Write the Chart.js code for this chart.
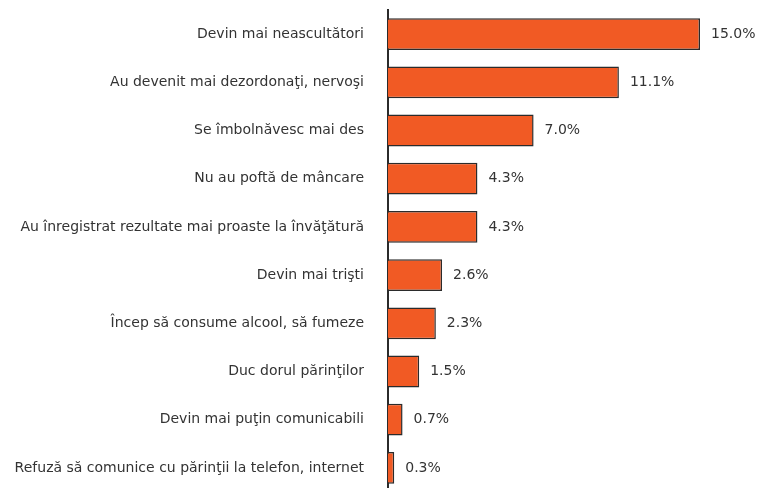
<!DOCTYPE html>
<html>
<head>
<meta charset="utf-8">
<script src="https://cdn.jsdelivr.net/npm/chart.js@4/dist/chart.umd.min.js"></script>
<style>
  html, body { margin: 0; padding: 0; background: #fff; overflow: hidden; }
</style>
</head>
<body>
<canvas id="myChart" width="760" height="492"></canvas>
<script>
const categories = [
    'Devin mai neascultători',
    'Au devenit mai dezordonaţi, nervoşi',
    'Se îmbolnăvesc mai des',
    'Nu au poftă de mâncare',
    'Au înregistrat rezultate mai proaste la învăţătură',
    'Devin mai trişti',
    'Încep să consume alcool, să fumeze',
    'Duc dorul părinţilor',
    'Devin mai puţin comunicabili',
    'Refuză să comunice cu părinţii la telefon, internet'
];
const values = [15.0, 11.1, 7.0, 4.3, 4.3, 2.6, 2.3, 1.5, 0.7, 0.3];

const valueLabels = {
    id: 'valueLabels',
    afterDatasetsDraw(chart) {
        const c = chart.ctx;
        const meta = chart.getDatasetMeta(0);
        c.save();
        c.font = '14px "DejaVu Sans"';
        c.fillStyle = '#333';
        c.textBaseline = 'middle';
        meta.data.forEach((bar, i) => {
            c.fillText(values[i].toFixed(1) + '%', bar.x + 11, bar.y);
        });
        c.restore();
    }
};

const ctx = document.getElementById('myChart').getContext('2d');
var myChart = new Chart(ctx, {
    type: 'bar',
    data: {
        labels: categories,
        datasets: [{
            data: values,
            backgroundColor: '#f15a24',
            borderColor: '#2b2b2b',
            borderWidth: 1.5,
            barPercentage: 0.66,
            categoryPercentage: 1
        }]
    },
    options: {
        indexAxis: 'y',
        responsive: false,
        animation: false,
        layout: { padding: { top: 10, right: 8, bottom: 0, left: 0 } },
        plugins: { legend: { display: false }, tooltip: { enabled: false } },
        scales: {
            x: { display: false, min: 0, max: 17.5 },
            y: {
                grid: { display: false },
                border: { display: true, color: '#2b2b2b', width: 2 },
                ticks: { color: '#333', font: { family: 'DejaVu Sans', size: 14 }, padding: 16 },
                afterFit(scale) {
                    scale.width = 388;
                    scale.paddingTop = 0;
                    scale.paddingBottom = 0;
                }
            }
        }
    },
    plugins: [valueLabels]
});
</script>
</body>
</html>
